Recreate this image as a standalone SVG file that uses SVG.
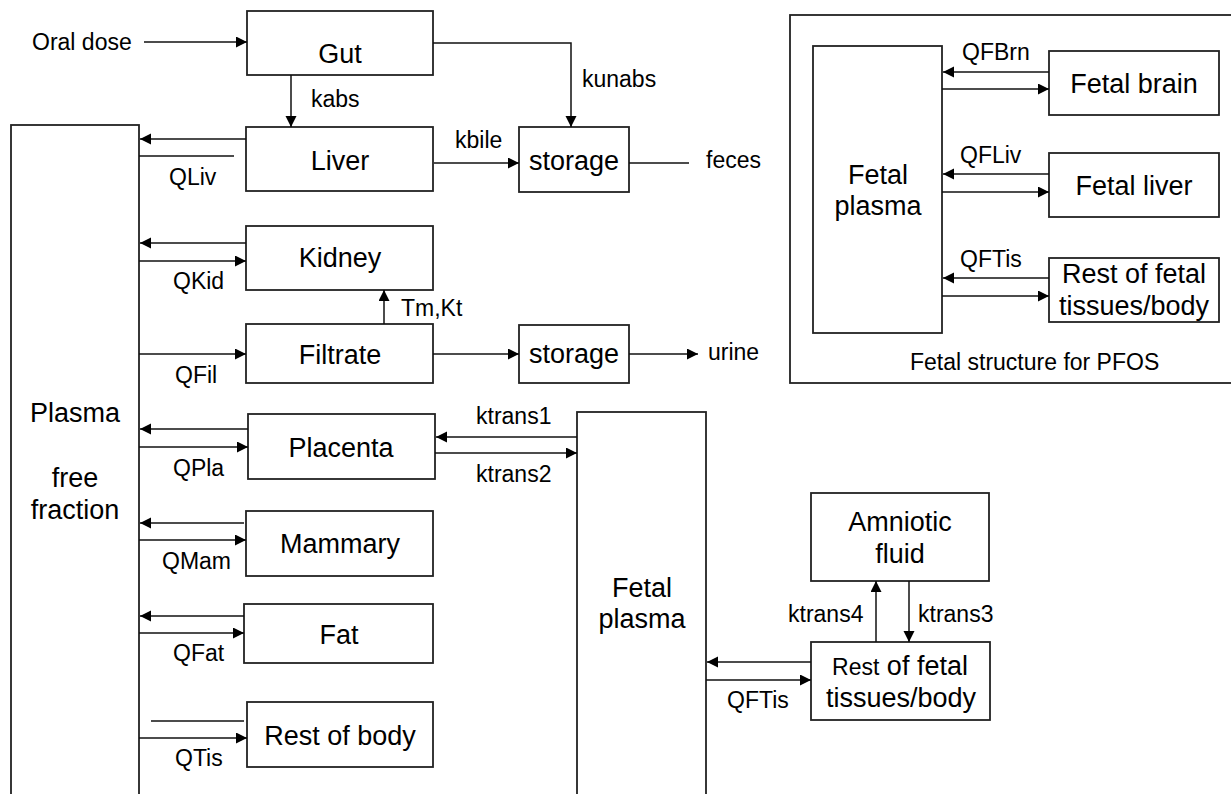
<svg xmlns="http://www.w3.org/2000/svg" width="1231" height="794" viewBox="0 0 1231 794">
<style>
.box{fill:#fff;stroke:#222;stroke-width:1.8}
.ln{fill:none;stroke:#111;stroke-width:1.5}
.big{font-family:"Liberation Sans",Arial,sans-serif;font-size:27px;fill:#000;text-anchor:middle}
.sm{font-family:"Liberation Sans",Arial,sans-serif;font-size:23px;fill:#000}
</style>
<defs>
<marker id="ah" markerUnits="userSpaceOnUse" markerWidth="12" markerHeight="12" refX="11" refY="5.5" orient="auto">
<path d="M0,0 L11,5.5 L0,11 z" fill="#000"/>
</marker>
</defs>
<rect width="1231" height="794" fill="#fff"/>

<g id="panel">
<rect class="box" x="790" y="15" width="470" height="368"/>
<text class="sm" x="910" y="370">Fetal structure for PFOS</text>
</g>

<g id="plasma">
<rect class="box" x="11" y="125" width="128" height="700"/>
<text class="big" x="75" y="422">Plasma</text>
<text class="big" x="75" y="487">free</text>
<text class="big" x="75" y="519">fraction</text>
</g>
<g id="gut"><rect class="box" x="247" y="11" width="186" height="64"/><text class="big" x="340" y="63">Gut</text></g>
<g id="liver"><rect class="box" x="246" y="127" width="187" height="64"/><text class="big" x="340" y="170">Liver</text></g>
<g id="storage1"><rect class="box" x="519" y="127" width="110" height="65"/><text class="big" x="574" y="170">storage</text></g>
<g id="kidney"><rect class="box" x="246" y="226" width="187" height="64"/><text class="big" x="340" y="267">Kidney</text></g>
<g id="filtrate"><rect class="box" x="246" y="324" width="187" height="59"/><text class="big" x="340" y="364">Filtrate</text></g>
<g id="storage2"><rect class="box" x="519" y="325" width="110" height="58"/><text class="big" x="574" y="363">storage</text></g>
<g id="placenta"><rect class="box" x="248" y="414" width="187" height="65"/><text class="big" x="341" y="457">Placenta</text></g>
<g id="mammary"><rect class="box" x="246" y="511" width="187" height="65"/><text class="big" x="340" y="553">Mammary</text></g>
<g id="fat"><rect class="box" x="244" y="604" width="189" height="59"/><text class="big" x="339" y="644">Fat</text></g>
<g id="restbody"><rect class="box" x="247" y="702" width="186" height="65"/><text class="big" x="340" y="745">Rest of body</text></g>

<g id="fetalplasma">
<rect class="box" x="577" y="412" width="129" height="420"/>
<text class="big" x="642" y="597">Fetal</text>
<text class="big" x="642" y="628">plasma</text>
</g>
<g id="amniotic"><rect class="box" x="811" y="493" width="178" height="88"/><text class="big" x="900" y="531">Amniotic</text><text class="big" x="900" y="563">fluid</text></g>
<g id="restfetal"><rect class="box" x="811" y="642" width="179" height="78"/><text class="big" x="900" y="675"><tspan font-size="23">Rest</tspan> of fetal</text><text class="big" x="901" y="707">tissues/body</text></g>

<g id="pfetalplasma"><rect class="box" x="813" y="46" width="129" height="287"/><text class="big" x="878" y="184">Fetal</text><text class="big" x="878" y="215">plasma</text></g>
<g id="fetalbrain"><rect class="box" x="1049" y="51" width="170" height="64"/><text class="big" x="1134" y="93">Fetal brain</text></g>
<g id="fetalliver"><rect class="box" x="1049" y="153" width="170" height="64"/><text class="big" x="1134" y="195">Fetal liver</text></g>
<g id="prestfetal"><rect class="box" x="1049" y="258" width="170" height="64"/><text class="big" x="1134" y="283">Rest of fetal</text><text class="big" x="1134" y="315">tissues/body</text></g>

<g id="connectors">
<path class="ln" d="M144,42 H247" marker-end="url(#ah)"/>
<path class="ln" d="M291,75 V127" marker-end="url(#ah)"/>
<path class="ln" d="M433,43 H571 V127" marker-end="url(#ah)"/>
<path class="ln" d="M434,163 H519" marker-end="url(#ah)"/>
<path class="ln" d="M629,163 H689"/>
<path class="ln" d="M246,139 H140" marker-end="url(#ah)"/>
<path class="ln" d="M139,156 H234"/>
<path class="ln" d="M246,243 H140" marker-end="url(#ah)"/>
<path class="ln" d="M139,261 H246" marker-end="url(#ah)"/>
<path class="ln" d="M384,324 V290" marker-end="url(#ah)"/>
<path class="ln" d="M139,354 H246" marker-end="url(#ah)"/>
<path class="ln" d="M433,354 H519" marker-end="url(#ah)"/>
<path class="ln" d="M629,354 H698" marker-end="url(#ah)"/>
<path class="ln" d="M248,429 H140" marker-end="url(#ah)"/>
<path class="ln" d="M139,447 H248" marker-end="url(#ah)"/>
<path class="ln" d="M577,437 H436" marker-end="url(#ah)"/>
<path class="ln" d="M435,453 H577" marker-end="url(#ah)"/>
<path class="ln" d="M244,523 H140" marker-end="url(#ah)"/>
<path class="ln" d="M139,540 H246" marker-end="url(#ah)"/>
<path class="ln" d="M244,616 H140" marker-end="url(#ah)"/>
<path class="ln" d="M139,633 H244" marker-end="url(#ah)"/>
<path class="ln" d="M151,721 H244"/>
<path class="ln" d="M139,738 H247" marker-end="url(#ah)"/>
<path class="ln" d="M876,642 V581" marker-end="url(#ah)"/>
<path class="ln" d="M909,581 V642" marker-end="url(#ah)"/>
<path class="ln" d="M811,662 H707" marker-end="url(#ah)"/>
<path class="ln" d="M706,680 H811" marker-end="url(#ah)"/>
<path class="ln" d="M1049,72 H943" marker-end="url(#ah)"/>
<path class="ln" d="M942,89 H1049" marker-end="url(#ah)"/>
<path class="ln" d="M1049,174 H943" marker-end="url(#ah)"/>
<path class="ln" d="M942,192 H1049" marker-end="url(#ah)"/>
<path class="ln" d="M1049,278 H943" marker-end="url(#ah)"/>
<path class="ln" d="M942,296 H1049" marker-end="url(#ah)"/>
</g>

<g id="labels">
<text class="sm" x="32" y="50">Oral dose</text>
<text class="sm" x="311" y="107">kabs</text>
<text class="sm" x="582" y="87">kunabs</text>
<text class="sm" x="455" y="148">kbile</text>
<text class="sm" x="706" y="168">feces</text>
<text class="sm" x="169" y="185">QLiv</text>
<text class="sm" x="173" y="289">QKid</text>
<text class="sm" x="401" y="316">Tm,Kt</text>
<text class="sm" x="175" y="383">QFil</text>
<text class="sm" x="708" y="360">urine</text>
<text class="sm" x="476" y="424">ktrans1</text>
<text class="sm" x="476" y="482">ktrans2</text>
<text class="sm" x="173" y="476">QPla</text>
<text class="sm" x="162" y="569">QMam</text>
<text class="sm" x="173" y="661">QFat</text>
<text class="sm" x="175" y="766">QTis</text>
<text class="sm" x="788" y="622">ktrans4</text>
<text class="sm" x="918" y="622">ktrans3</text>
<text class="sm" x="727" y="708">QFTis</text>
<text class="sm" x="962" y="60">QFBrn</text>
<text class="sm" x="960" y="163">QFLiv</text>
<text class="sm" x="960" y="267">QFTis</text>
</g>
</svg>
